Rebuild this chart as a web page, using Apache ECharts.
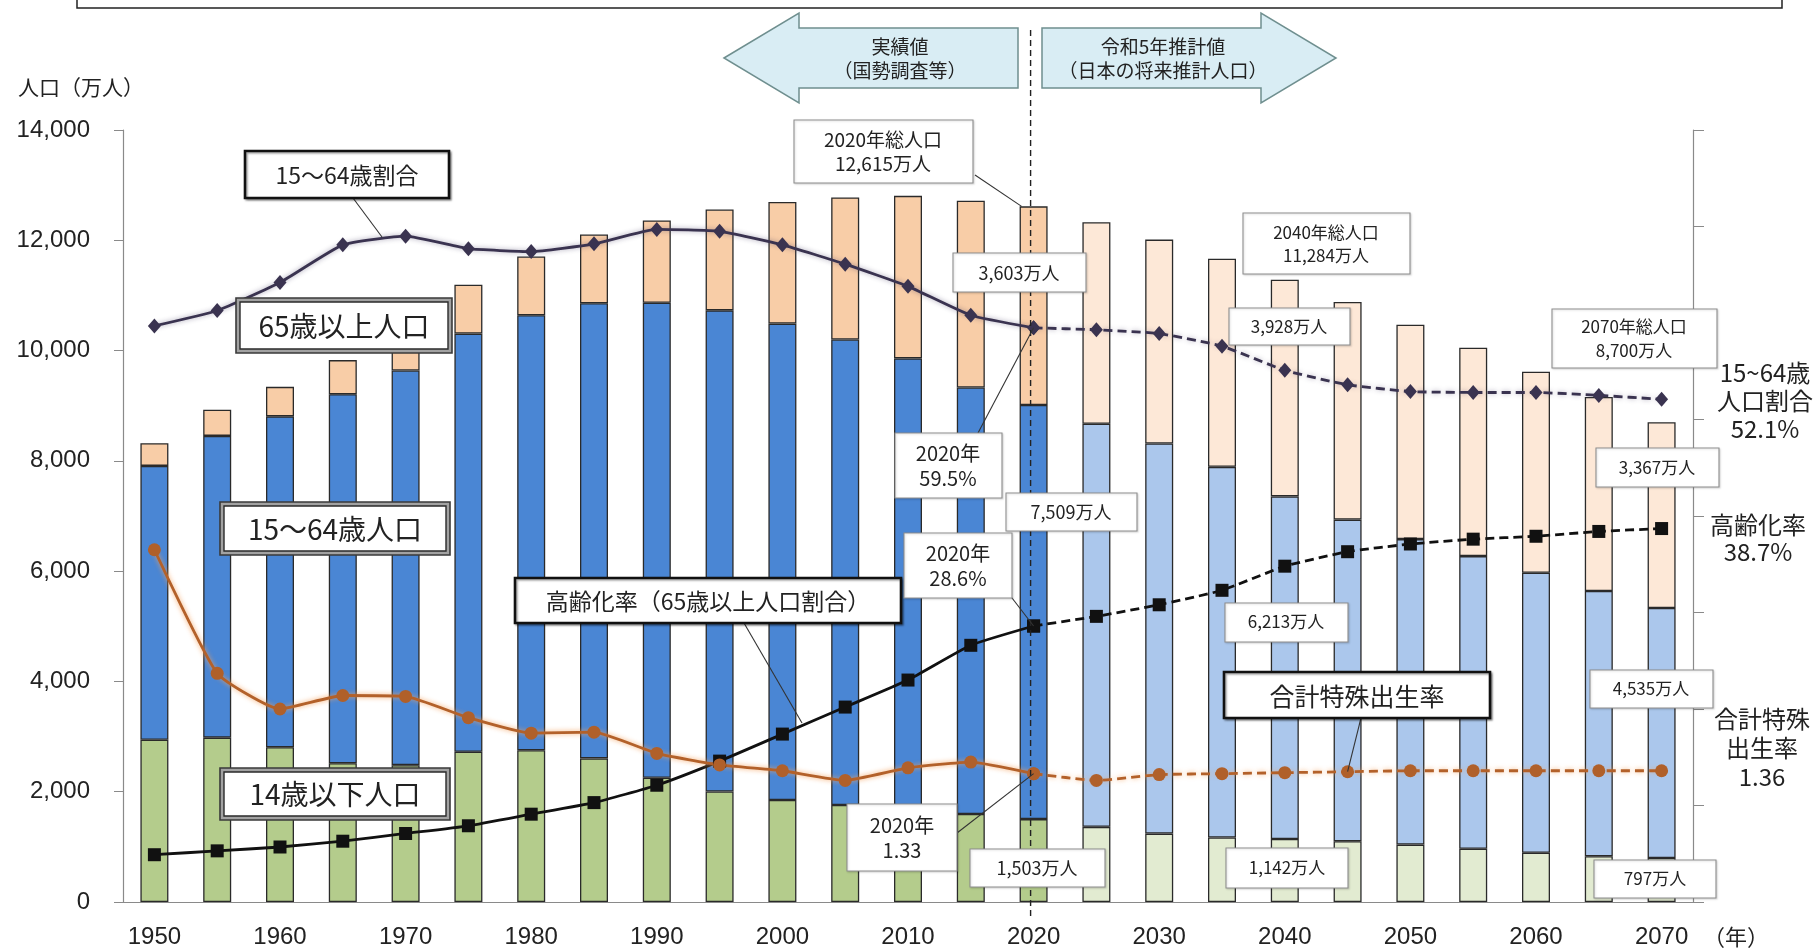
<!DOCTYPE html>
<html><head><meta charset="utf-8">
<script src="https://cdn.jsdelivr.net/npm/echarts@6/dist/echarts.min.js"></script>
<style>html,body{margin:0;padding:0;background:#fff;overflow:hidden}#c{width:1816px;height:951px}</style>
</head><body><div id="c"></div>
<script>
// ---- data (万人 / %) ----
const years = ['1950','1955','1960','1965','1970','1975','1980','1985','1990','1995','2000','2005','2010','2015','2020','2025','2030','2035','2040','2045','2050','2055','2060','2065','2070'];
const young   = [2943,2980,2807,2517,2482,2724,2752,2604,2254,2003,1851,1759,1684,1595,1503,1363,1240,1169,1142,1103,1041,966,893,831,797];
const working = [4966,5473,6000,6692,7157,7584,7888,8254,8614,8726,8638,8442,8174,7735,7509,7310,7076,6722,6213,5832,5540,5307,5078,4809,4535];
const elderly = [411,475,535,618,733,887,1065,1247,1493,1828,2204,2576,2948,3387,3603,3653,3696,3773,3928,3945,3888,3778,3644,3519,3367];
const ratio1564 = [59.7,61.3,64.2,68.1,69.0,67.7,67.4,68.2,69.7,69.5,68.1,66.1,63.8,60.8,59.5,59.3,58.9,57.6,55.1,53.6,52.9,52.8,52.8,52.5,52.1];
const agingRate = [4.9,5.3,5.7,6.3,7.1,7.9,9.1,10.3,12.1,14.6,17.4,20.2,23.0,26.6,28.6,29.6,30.8,32.3,34.8,36.3,37.1,37.6,37.9,38.4,38.7];
const fertility = [3.65,2.37,2.00,2.14,2.13,1.91,1.75,1.76,1.54,1.42,1.36,1.26,1.39,1.45,1.33,1.26,1.32,1.33,1.34,1.35,1.36,1.36,1.36,1.36,1.36];
const lastActual = 14; // 2020

const ACT = {old:'#f8cda7', work:'#4a86d4', young:'#b4cc8c'};
const PRJ = {old:'#fde8d7', work:'#abc7ec', young:'#e2ebd1'};

const chart = echarts.init(document.getElementById('c'));
const barData = (arr, key) => arr.map((v,i)=>({value:v, itemStyle:{color: i<=lastActual ? ACT[key] : PRJ[key]}}));
const act = arr => arr.map((v,i)=> i<=lastActual ? v : null);
const prj = arr => arr.map((v,i)=> i>=lastActual ? v : null);

const barCommon = {type:'bar', stack:'pop', barWidth:28, itemStyle:{borderColor:'#2a2a2a', borderWidth:1.3}, emphasis:{disabled:true}};
const lineSeries = (data, dashed, color, symbol, size, yIdx, shadow, symColor) => ({
  type:'line', data, yAxisIndex:yIdx, smooth:0.15, symbol, symbolSize:size, showSymbol:true,
  lineStyle:{color, width:2.8, type: dashed ? [9,5] : 'solid', shadowColor:shadow, shadowBlur: shadow?5:0},
  itemStyle:{color: symColor || color}, emphasis:{disabled:true}, z:5, animation:false
});

const axisFont = '"Liberation Sans", Arial, sans-serif';
chart.setOption({
  animation:false,
  grid:{left:123, right:123, top:130, bottom:49},
  xAxis:{type:'category', data:years, boundaryGap:true,
    axisLine:{lineStyle:{color:'#8a8a8a', width:1.2}},
    axisTick:{interval:0, length:6, lineStyle:{color:'#8a8a8a'}},
    axisLabel:{interval:1, fontSize:24, fontFamily:axisFont, color:'#222', margin:23}},
  yAxis:[
    {type:'value', min:0, max:14000, interval:2000, position:'left',
     axisLine:{show:true, lineStyle:{color:'#8a8a8a', width:1.2}},
     axisTick:{show:true, length:9, lineStyle:{color:'#8a8a8a'}},
     axisLabel:{fontSize:24, fontFamily:axisFont, color:'#222', margin:33, formatter:v=>v.toLocaleString('en-US')},
     splitLine:{show:false}},
    {type:'value', min:0, max:80, interval:10, position:'right',
     axisLine:{show:true, lineStyle:{color:'#8a8a8a', width:1.2}},
     axisTick:{show:true, length:11, lineStyle:{color:'#8a8a8a'}},
     axisLabel:{show:false}, splitLine:{show:false}},
    {type:'value', min:0, max:8, show:false, position:'right'}
  ],
  series:[
    Object.assign({name:'14歳以下人口', data:barData(young,'young')}, barCommon),
    Object.assign({name:'15～64歳人口', data:barData(working,'work')}, barCommon),
    Object.assign({name:'65歳以上人口', data:barData(elderly,'old')}, barCommon),
    lineSeries(act(ratio1564), false, '#3a3350', 'diamond', [13,15], 1, 'rgba(60,50,90,0.45)'),
    lineSeries(prj(ratio1564), true, '#3a3350', 'diamond', [13,15], 1, 'rgba(60,50,90,0.35)'),
    lineSeries(act(agingRate), false, '#111', 'rect', 13, 1, null),
    lineSeries(prj(agingRate), true, '#111', 'rect', 13, 1, null),
    lineSeries(act(fertility), false, '#b3612a', 'circle', 13, 2, 'rgba(245,160,90,0.9)', '#b0602a'),
    lineSeries(prj(fertility), true, '#b3612a', 'circle', 13, 2, 'rgba(245,160,90,0.7)', '#b0602a')
  ]
});

// ---- annotations ----
const px = (yIdx, i, v) => chart.convertToPixel({xAxisIndex:0, yAxisIndex:yIdx}, [years[i], v]);
const JP = '"Noto Sans CJK JP", "Noto Sans", sans-serif';
const G = [];
const txt = (x,y,text,size,lh,align) => G.push({type:'text', z:62, silent:true, style:{text, x, y, font:`${size}px ${JP}`, fill:'#222', align:align||'center', verticalAlign:'middle', textAlign:align||'center', textVerticalAlign:'middle', lineHeight:lh||size*1.2}});
const line = (x1,y1,x2,y2) => G.push({type:'line', z:58, silent:true, shape:{x1,y1,x2,y2}, style:{stroke:'#333', lineWidth:1.1}});
function box(kind,x,y,w,h){
  if(kind==='A') G.push({type:'rect', z:60, silent:true, shape:{x,y,width:w,height:h}, style:{fill:'#fff', stroke:'#111', lineWidth:2.6, shadowColor:'rgba(0,0,0,0.35)', shadowBlur:2, shadowOffsetX:1.5, shadowOffsetY:1.5}});
  else if(kind==='B'){
    G.push({type:'rect', z:60, silent:true, shape:{x,y,width:w,height:h}, style:{fill:'#a2a2a2', stroke:'#3a3a3a', lineWidth:1.6}});
    G.push({type:'rect', z:61, silent:true, shape:{x:x+4,y:y+4,width:w-8,height:h-8}, style:{fill:'#fff', stroke:'#2a2a2a', lineWidth:1.4}});
  } else G.push({type:'rect', z:60, silent:true, shape:{x,y,width:w,height:h}, style:{fill:'#fff', stroke:'#8e8e8e', lineWidth:1.1, shadowColor:'rgba(0,0,0,0.15)', shadowBlur:2, shadowOffsetX:1, shadowOffsetY:1}});
}

// top (cut-off) frame
G.push({type:'rect', z:40, silent:true, shape:{x:77,y:-12,width:1705,height:20}, style:{fill:'none', stroke:'#222', lineWidth:1.5}});

// 2020 divider
const c2020 = px(0, lastActual, 0);
G.push({type:'line', z:57, silent:true, shape:{x1:c2020[0]-3, y1:30, x2:c2020[0]-3, y2:917}, style:{stroke:'#222', lineWidth:1.4, lineDash:[6,4]}});

// arrows
const arrowStyle = {fill:'#d9edf4', stroke:'#6f8f8f', lineWidth:1.5};
G.push({type:'polygon', z:45, silent:true, shape:{points:[[724,58],[799,13],[799,28],[1018,28],[1018,88],[799,88],[799,103]]}, style:arrowStyle});
G.push({type:'polygon', z:45, silent:true, shape:{points:[[1042,28],[1261,28],[1261,13],[1336,58],[1261,103],[1261,88],[1042,88]]}, style:arrowStyle});
txt(900,47,'実績値',19); txt(900,71,'（国勢調査等）',19);
txt(1163,47,'令和5年推計値',19); txt(1163,71,'（日本の将来推計人口）',19);

// axis titles
txt(18,87,'人口（万人）',21,24,'left');
txt(1736,937,'（年）',22);

// leader lines
const pRatio = px(1, lastActual, ratio1564[lastActual]);
const pAging = px(1, lastActual, agingRate[lastActual]);
const pFert  = px(2, lastActual, fertility[lastActual]);
const pFert45 = px(2, 19, fertility[19]);
const pTop = px(0, lastActual, young[lastActual]+working[lastActual]+elderly[lastActual]);
line(353,198,382,237);
line(744,623,802,723);
line(1361,718,pFert45[0],pFert45[1]);
line(975,175,pTop[0]-12,pTop[1]);
line(978,433,pRatio[0],pRatio[1]);
line(992,572,pAging[0],pAging[1]);
line(957,833,pFert[0],pFert[1]);

// labelled boxes
box('A',245,151,204,47); txt(347,175,'15～64歳割合',23);
box('A',515,578,386,45); txt(708,601,'高齢化率（65歳以上人口割合）',23);
box('A',1224,672,266,46); txt(1357,696,'合計特殊出生率',25);
box('B',236,298,216,55); txt(344,326,'65歳以上人口',28);
box('B',220,502,230,53); txt(335,529,'15～64歳人口',28);
box('B',220,768,230,52); txt(335,794,'14歳以下人口',28);

box('C',794,120,179,63); txt(883,152,'2020年総人口\n12,615万人',19,24);
box('C',953,253,133,39); txt(1019,273,'3,603万人',18);
box('C',895,433,107,65); txt(948,466,'2020年\n59.5%',20,25);
box('C',1006,493,131,38); txt(1071,512,'7,509万人',18);
box('C',904,533,108,65); txt(958,566,'2020年\n28.6%',20,25);
box('C',847,804,110,67); txt(902,838,'2020年\n1.33',20,25);
box('C',970,849,135,38); txt(1037,868,'1,503万人',18);
box('C',1243,213,167,61); txt(1326,244,'2040年総人口\n11,284万人',17,23);
box('C',1229,308,121,37); txt(1289,327,'3,928万人',17);
box('C',1225,603,123,39); txt(1286,622,'6,213万人',17);
box('C',1226,848,122,40); txt(1287,868,'1,142万人',17);
box('C',1552,309,165,59); txt(1634,339,'2070年総人口\n8,700万人',17,24);
box('C',1596,448,123,39); txt(1657,468,'3,367万人',17);
box('C',1590,670,123,38); txt(1651,689,'4,535万人',17);
box('C',1594,860,122,38); txt(1655,879,'797万人',17);

// right-side end labels
txt(1765,401,'15~64歳\n人口割合\n52.1%',24,28);
txt(1758,538,'高齢化率\n38.7%',24,27);
txt(1762,748,'合計特殊\n出生率\n1.36',24,29);

chart.setOption({graphic:{elements:G}});
</script></body></html>
